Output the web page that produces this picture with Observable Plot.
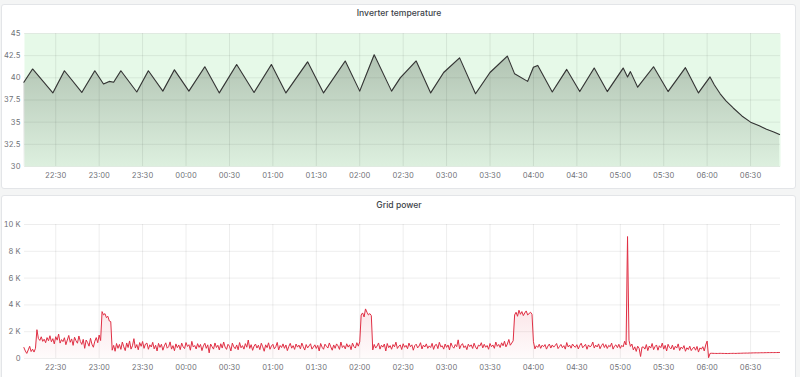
<!DOCTYPE html>
<html><head><meta charset="utf-8">
<script src="https://cdn.jsdelivr.net/npm/d3@7"></script>
<script src="https://cdn.jsdelivr.net/npm/@observablehq/plot@0.6"></script>
<style>
body{margin:0;background:#f4f5f5;width:800px;height:377px;overflow:hidden;position:relative;font-family:Inter,"Noto Sans",sans-serif}
.panel{position:absolute;background:#fff;border:1px solid #e3e5e8;border-radius:3px;box-sizing:border-box}
.title{position:absolute;left:0;width:798px;text-align:center;font-size:8.6px;font-weight:500;color:#3d434a;line-height:10px}
.chart{position:absolute;left:0}
</style></head><body>
<div class="panel" style="left:1px;top:4px;width:795px;height:185px"></div>
<div class="panel" style="left:1px;top:195px;width:795px;height:190px"></div>
<div class="title" style="top:8px">Inverter temperature</div>
<div class="title" style="top:200px">Grid power</div>
<div id="c1" class="chart" style="top:20px"></div>
<div id="c2" class="chart" style="top:210px"></div>
<script>
// ---- data ----
const xDomain = ["22:08:25", "06:50:40"];
const xTickLabels = ["22:30","23:00","23:30","00:00","00:30","01:00","01:30","02:00","02:30","03:00","03:30","04:00","04:30","05:00","05:30","06:00","06:30"];

const tempTicks = [30, 32.5, 35, 37.5, 40, 42.5, 45];
const tempTimes = ["22:08","22:14","22:28","22:36","22:48","22:57","23:03","23:07","23:10","23:15","23:26","23:34","23:44","23:52","00:02","00:13","00:23","00:35","00:47","00:59","01:09","01:24","01:35","01:50","02:00","02:10","02:22","02:28","02:39","02:49","02:58","03:09","03:20","03:30","03:42","03:47","03:56","04:00","04:03","04:13","04:23","04:32","04:42","04:51","05:02","05:05","05:07","05:12","05:23","05:33","05:45","05:54","06:02","06:05","06:09","06:13","06:18","06:24","06:30","06:36","06:41","06:46","06:50"];
const tempValues = [39.5,41.0,38.3,40.8,38.35,40.8,39.3,39.6,39.5,40.8,38.4,40.8,38.5,40.9,38.5,41.25,38.3,41.5,38.35,41.5,38.3,41.8,38.3,41.9,38.5,42.6,38.5,40.0,41.9,38.3,40.6,42.25,38.2,40.6,42.45,40.45,39.6,41.2,41.4,38.4,40.95,38.45,41.1,38.45,41.1,40.1,40.7,38.95,41.25,38.45,41.15,38.3,40.1,39.2,38.2,37.4,36.6,35.7,35.0,34.6,34.2,33.9,33.6];

const powerTicks = [0, 2000, 4000, 6000, 8000, 10000];
// grid power, one value per minute, each segment starting at its given time
const pwLowStart = [820,560,380,640,910,520,700,480,760];
const pwEvening = [2150,
 1500,1350,1620,1280,1440,1180,1560,1320,1700,1250,
 1480,1090,1630,1370,1820,1150,1410,1260,1550,1030,
 1380,1720,1210,1460,980,1590,1320,1140,1680,1270,
 1050,1430,760,1380,1190,920,1510,1070,840,1290,
 1560,1180,1750,1340];
const pwPeak1 = [3500,3250,3350,3050,3150,2800,2750];
const pwNight1 = [
 620,980,540,1120,760,1050,680,1230,870,590,
 1160,820,1310,700,950,1480,780,1040,650,1190,
 910,1270,760,1080,1150,690,1020,860,1210,720,
 990,560,1130,830,1060,620,940,1170,770,880,
 1240,700,960,580,1090,810,1010,660,1150,870,
 740,1190,900,1030,620,1280,860,970,710,1110,
 830,1050,590,940,1140,760,1020,420,1080,880,
 700,1160,820,990,640,1100,780,1230,850,680,
 1060,920,560,1150,870,730,1010,650,1190,800,
 960,700,1110,840,1380,750,1030,610,920,1080,
 780,990,660,1140,870,540,1020,810,1170,690,
 930,1060,720,880,1200,640,970,820,1090,760,
 1010,590,900,1130,770,960,680,1080,850,1000,
 720,1150,880,630,1040,790,940,1100,700,860,
 1020,750,980,560,1120,840,690,1070,910,780,
 1160,870,620,1010,760,1090,940,680,1230,820,
 960,720,1100,850,1020,660,1150,890,780,1180,
 920,1240];
const pwPeak2 = [3250,3400,3100,3700,3450,3250,3350,3200];
const pwNight2 = [
 640,1050,780,930,1160,700,990,850,1080,560,
 1120,810,960,690,1040,870,1220,750,920,1010,
 670,1100,840,980,730,1150,880,1020,620,960,
 1070,790,930,1180,710,1000,860,1090,760,940,
 820,1130,680,990,1050,740,1210,870,950,700,
 1080,830,1010,640,1160,900,770,1040,880,1390,
 720,980,1110,810,950,660,1070,890,1020,750,
 1140,860,700,1000,930,1180,790,1060,840,970,
 690,1120,880,1010,760,1230,910,1050,820,1170,
 950,1290,870,1080,1420,990,1150,1320];
const pwPeak3 = [3250,3450,3150,3600,3300,3500,3200,3400,3550,3250,3350,3450,3300];
const pwNight3 = [
 1250,720,950,830,1060,760,990,880,1040,700,
 930,1080,780,1010,850,970,1120,740,900,1050,
 810,960,700,1190,860,1000,770,1080,920,840,
 1030,710,980,1140,800,930,1060,690,1010,870,
 950,1230,780,1000,860,1090,730,960,1110,820,
 1040,750,980,880,1150,700,930,1020,810,1060,
 760,980,870,1290,1010];
const pwSpike = [9100];
const pwNight4 = [
 1350,900,1080,640,870,530,920,760,150,850,
 860,700,1040,590,930,780,1120,660,890,1010,
 620,950,810,1150,700,980,560,1060,830,720,
 1000,650,910,780,1090,600,850,730,960,540,
 800,670,920,590,760,850,620,900,480,790,
 700,880,560,1010,1300];
const pwIdle = [60,
 380,390,385,380,380,375,380,385,380,380,
 375,375,370,375,380,380,385,380,380,385,
 390,390,395,400,400,405,400,410,410,415,
 420,420,425,420,425,430,430,430,435,435,
 440,440,440,445,440,445,445,450,450];
const powerSegments = [
 ["22:08", pwLowStart], ["22:17", pwEvening], ["23:02", pwPeak1], ["23:09", pwNight1],
 ["02:01", pwPeak2], ["02:09", pwNight2], ["03:47", pwPeak3], ["04:00", pwNight3],
 ["05:05", pwSpike], ["05:06", pwNight4], ["06:01", pwIdle]
];

// ---- build ----
function tm(s){ const [h,m,sec=0]=s.split(":").map(Number); return new Date(Date.UTC(2023,0,h>=12?1:2,h,m,sec)); }
const temp = tempTimes.map((t,i)=>({t:tm(t), v:tempValues[i]}));
const power = [];
for (const [start, arr] of powerSegments) {
  const t0 = tm(start);
  arr.forEach((v,i)=>power.push({t:new Date(+t0 + i*60000), v}));
}
const xd = xDomain.map(tm);
const xt = xTickLabels.map(tm);
const fmt = d3.utcFormat("%H:%M");
const style = {fontFamily:"Inter, 'Noto Sans', sans-serif", fontSize:"7.5px", color:"#6e7076", background:"transparent", overflow:"visible"};

const p1 = Plot.plot({
  width: 800, height: 168,
  marginLeft: 24, marginRight: 20, marginTop: 13, marginBottom: 22,
  style,
  x: {type:"utc", domain: xd},
  y: {domain:[30,45]},
  marks: [
    Plot.frame({fill:"#e6f9e8", stroke:"none"}),
    Plot.gridX({ticks: xt, stroke:"#000", strokeOpacity:0.08}),
    Plot.gridY({ticks: tempTicks, stroke:"#000", strokeOpacity:0.07}),
    Plot.areaY(temp, {x:"t", y1:30, y2:"v", fill:"url(#gTemp)"}),
    Plot.lineY(temp, {x:"t", y:"v", stroke:"#333", strokeWidth:1.1}),
    Plot.axisX({ticks: xt, tickFormat: fmt, tickSize:0, tickPadding:6, label:null}),
    Plot.axisY({ticks: tempTicks, tickSize:0, tickPadding:4, label:null, tickFormat: d=>String(d)})
  ]
});
d3.select(p1).append("defs").html(
 '<linearGradient id="gTemp" x1="0" y1="0" x2="0" y2="1">' +
 '<stop offset="0" stop-color="#2a3a2a" stop-opacity="0.28"/>' +
 '<stop offset="1" stop-color="#2a3a2a" stop-opacity="0.05"/></linearGradient>');
document.getElementById("c1").appendChild(p1);

const p2 = Plot.plot({
  width: 800, height: 167,
  marginLeft: 24, marginRight: 20, marginTop: 14, marginBottom: 19,
  style,
  x: {type:"utc", domain: xd},
  y: {domain:[0,10000]},
  marks: [
    Plot.gridX({ticks: xt, stroke:"#000", strokeOpacity:0.07}),
    Plot.gridY({ticks: powerTicks, stroke:"#000", strokeOpacity:0.07}),
    Plot.areaY(power, {x:"t", y1:0, y2:"v", fill:"url(#gPow)"}),
    Plot.lineY(power, {x:"t", y:"v", stroke:"#e02f44", strokeWidth:1}),
    Plot.axisX({ticks: xt, tickFormat: fmt, tickSize:0, tickPadding:6, label:null}),
    Plot.axisY({ticks: powerTicks, tickSize:0, tickPadding:4, label:null, tickFormat: d => d===0 ? "0" : (d/1000)+" K"})
  ]
});
d3.select(p2).append("defs").html(
 '<linearGradient id="gPow" x1="0" y1="0" x2="0" y2="1">' +
 '<stop offset="0" stop-color="#e02f44" stop-opacity="0.22"/>' +
 '<stop offset="0.6" stop-color="#e02f44" stop-opacity="0.12"/>' +
 '<stop offset="1" stop-color="#e02f44" stop-opacity="0.02"/></linearGradient>');
document.getElementById("c2").appendChild(p2);
</script>
</body></html>
